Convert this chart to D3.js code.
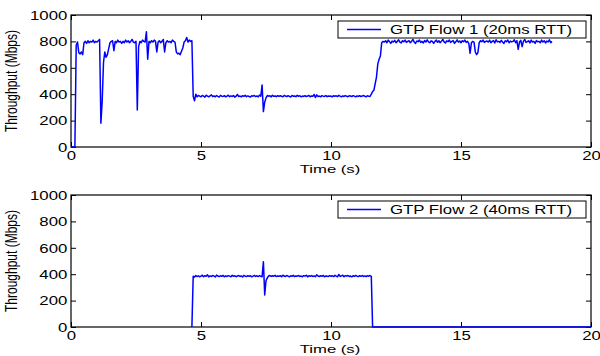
<!DOCTYPE html>
<html>
<head>
<meta charset="utf-8">
<script src="https://cdn.jsdelivr.net/npm/d3@7"></script>
<style>
  html, body { margin: 0; padding: 0; background: #fff; }
  svg { display: block; }
  text { font-family: "Liberation Sans", Arial, sans-serif; font-size: 12px; fill: #000; }
</style>
</head>
<body>
<svg id="chart" width="600" height="356"></svg>
<script>
// ---------------- DATA ----------------
const xTicks = [0, 5, 10, 15, 20];
const yTicks = [0, 200, 400, 600, 800, 1000];
const xLabel = "Time (s)";
const yLabel = "Throughput (Mbps)";
const seriesNames = ["GTP Flow 1 (20ms RTT)", "GTP Flow 2 (40ms RTT)"];
const sampleStep = 0.05; // seconds between samples

// Flow 1: samples from t = 0.00 s to 18.50 s
const flow1Start = 0;
const flow1Values = [
  0,0,0,0,770,795,715,705,720,700,790,800,785,805,790,800,795,810,790,800,
  795,805,815,180,350,640,720,680,700,745,790,800,805,730,800,790,810,795,800,785,
  800,790,810,795,805,790,800,815,795,790,800,280,760,800,790,810,800,795,873,665,
  800,790,805,795,810,800,720,795,805,790,800,815,720,790,805,795,800,790,810,800,
  795,720,705,710,700,725,750,795,805,830,795,810,800,805,385,350,400,380,390,385,
  380,390,385,378,392,386,380,388,395,382,387,380,390,384,379,391,385,383,389,380,
  386,392,381,387,383,390,378,385,398,382,386,380,389,384,392,381,387,383,379,388,
  385,390,382,387,380,393,384,470,268,340,372,390,385,388,380,392,384,387,381,389,
  383,388,385,380,391,386,382,389,384,379,390,385,387,381,392,384,388,380,386,383,
  389,382,386,391,380,387,384,398,375,395,382,386,380,389,385,383,390,381,387,384,
  386,380,389,384,388,382,391,385,380,387,383,390,384,381,388,386,382,389,385,380,
  387,383,389,382,386,391,384,380,388,385,383,400,420,430,480,530,630,665,690,790,
  800,795,805,790,810,798,785,802,795,808,790,800,812,795,788,805,797,810,792,800,
  805,790,800,815,795,785,803,798,810,792,800,788,806,795,812,797,790,804,799,785,
  800,810,793,805,790,802,815,796,788,804,798,810,792,800,806,785,797,812,795,803,
  790,805,798,810,792,800,785,710,790,800,795,720,700,715,790,805,798,810,792,800,
  803,795,810,790,800,806,788,812,797,800,792,808,795,785,805,798,810,790,802,796,
  800,812,790,805,740,795,808,760,800,815,792,798,805,788,810,795,800,785,806,797,
  800,790,810,795,805,788,802,796,812,790,800
];

// Flow 2: samples from t = 4.65 s to 11.60 s, then idle (0) until 20 s
const flow2Start = 4.65;
const flow2Values = [
  0,
  385,378,390,382,388,380,
  386,392,381,389,384,395,380,387,383,390,385,379,393,386,382,388,384,391,380,387,
  383,389,385,380,392,384,388,381,386,390,383,387,379,391,385,382,389,384,388,380,
  386,391,383,388,382,390,384,380,495,242,350,372,386,390,383,388,385,391,382,387,
  384,389,381,392,386,383,390,385,380,388,384,391,382,387,385,390,383,386,381,389,
  385,392,380,388,384,390,383,387,381,395,386,382,389,384,391,380,387,385,383,390,
  384,388,382,391,385,380,398,383,387,392,381,389,385,390,383,386,380,388,384,391,
  385,382,389,384,390,383,387,381,388,385,390,384,
  0
];
const flow2Tail = [[20, 0]];

// ---------------- LAYOUT ----------------
const svg = d3.select("#chart");
const SX = 1.4; // horizontal stretch of glyphs seen in the reference
const left = 71, right = 591;
const panels = [
  { top: 15, bottom: 147, name: seriesNames[0],
    data: flow1Values.map((v, i) => [flow1Start + i * sampleStep, v]) },
  { top: 195, bottom: 327, name: seriesNames[1],
    data: flow2Values.map((v, i) => [flow2Start + i * sampleStep, v]).concat(flow2Tail) }
];

const x = d3.scaleLinear().domain([0, 20]).range([left, right]);
const fmt = d3.format("d");

panels.forEach(p => {
  const y = d3.scaleLinear().domain([0, 1000]).range([p.bottom, p.top]);
  const g = svg.append("g");

  // left axis
  const gl = g.append("g").attr("transform", `translate(${left},0)`)
    .call(d3.axisLeft(y).tickValues(yTicks).tickFormat(fmt).tickSizeInner(-5).tickSizeOuter(0).tickPadding(2.6));
  gl.selectAll("text").attr("x", -2.6).attr("transform", `scale(${SX},1)`).attr("dy", "0.36em")
    .style("font-family", '"Liberation Sans", Arial, sans-serif').style("font-size", "12px");
  // bottom axis
  const gb = g.append("g").attr("transform", `translate(0,${p.bottom})`)
    .call(d3.axisBottom(x).tickValues(xTicks).tickFormat(fmt).tickSizeInner(-5).tickSizeOuter(0).tickPadding(4));
  gb.selectAll("text").attr("transform", `scale(${SX},1)`)
    .style("font-family", '"Liberation Sans", Arial, sans-serif').style("font-size", "12px");
  // top & right axes (ticks only)
  g.append("g").attr("transform", `translate(0,${p.top})`)
    .call(d3.axisTop(x).tickValues(xTicks).tickSizeInner(-5).tickSizeOuter(0).tickFormat(""));
  g.append("g").attr("transform", `translate(${right},0)`)
    .call(d3.axisRight(y).tickValues(yTicks).tickSizeInner(-5).tickSizeOuter(0).tickFormat(""));
  g.selectAll(".domain").remove();
  g.selectAll(".tick line").attr("stroke", "#000");

  // frame
  g.append("rect").attr("x", left).attr("y", p.top)
    .attr("width", right - left).attr("height", p.bottom - p.top)
    .attr("fill", "none").attr("stroke", "#000").attr("stroke-width", 1.2);

  // axis titles
  g.append("text").attr("text-anchor", "middle")
    .attr("transform", `translate(${(left + right) / 2 - 1},${p.bottom + 25.5}) scale(1.45,1)`)
    .style("font-size", "11.5px")
    .text(xLabel);
  g.append("text").attr("text-anchor", "middle")
    .attr("transform", `translate(16.5,${(p.top + p.bottom) / 2}) scale(${SX},1) rotate(-90)`)
    .text(yLabel);

  // data line
  const line = d3.line().x(d => x(d[0])).y(d => y(d[1]));
  g.append("path").datum(p.data).attr("d", line)
    .attr("fill", "none").attr("stroke", "#0000ff").attr("stroke-width", 1.5)
    .attr("stroke-linejoin", "round");

  // legend
  const lg = g.append("g");
  lg.append("rect").attr("x", 338).attr("y", p.top + 6)
    .attr("width", 248).attr("height", 17)
    .attr("fill", "#fff").attr("stroke", "#000").attr("stroke-width", 1);
  lg.append("line").attr("x1", 347).attr("x2", 381)
    .attr("y1", p.top + 14.5).attr("y2", p.top + 14.5)
    .attr("stroke", "#0000ff").attr("stroke-width", 1.3);
  lg.append("text")
    .attr("transform", `translate(390,${p.top + 18.5}) scale(${SX},1)`)
    .text(p.name);
});
</script>
</body>
</html>
